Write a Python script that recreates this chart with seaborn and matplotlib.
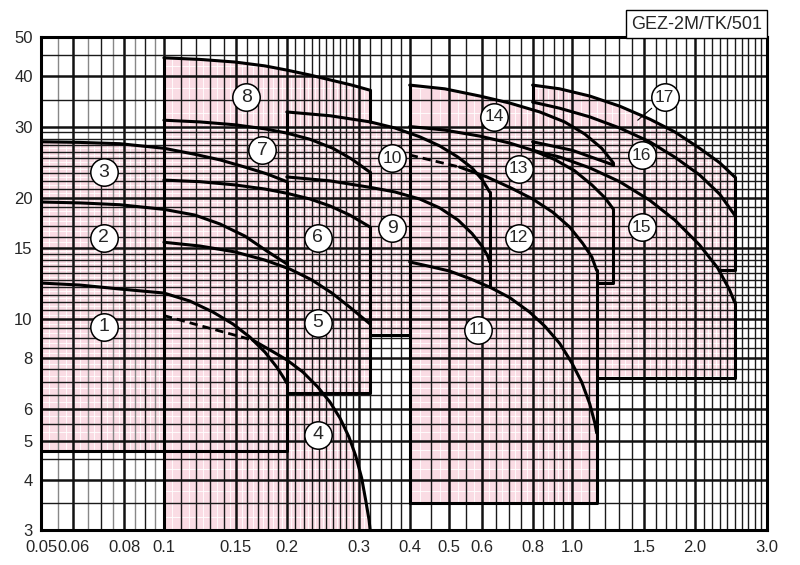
import numpy as np
import seaborn as sns
import matplotlib
matplotlib.use('Agg')
import matplotlib.pyplot as plt
from matplotlib.ticker import NullLocator

sns.set_style('white')
plt.rcParams['font.family'] = ['Liberation Sans', 'DejaVu Sans']

PINK = '#fadce4'

# ---- curves: flow q [m3/min], head h [m] ----
c1_q = [0.05, 0.0623, 0.078, 0.1, 0.1158, 0.1318, 0.1476, 0.1624, 0.1768, 0.189, 0.1967, 0.2]
c1_h = [12.28, 12.14, 11.87, 11.6, 11.08, 10.41, 9.72, 9.02, 8.28, 7.6, 7.14, 6.94]
c2_q = [0.05, 0.0623, 0.078, 0.1, 0.1191, 0.1372, 0.158, 0.1787, 0.2]
c2_h = [19.5, 19.4, 19.2, 18.7, 18.1, 17.2, 16.05, 14.74, 13.7]
c3_q = [0.05, 0.0623, 0.078, 0.1, 0.1191, 0.1372, 0.158, 0.1787, 0.2]
c3_h = [27.5, 27.4, 27.2, 26.5, 25.6, 24.8, 23.8, 22.9, 21.9]
c4d_q = [0.1, 0.126, 0.165]
c4d_h = [10.2, 9.56, 8.87]
c4_q = [0.165, 0.182, 0.2, 0.219, 0.238, 0.255, 0.27, 0.284, 0.295, 0.305, 0.312, 0.318, 0.32]
c4_h = [8.87, 8.38, 7.92, 7.39, 6.79, 6.23, 5.68, 5.10, 4.58, 4.04, 3.56, 3.18, 3.0]
c5_q = [0.1, 0.1225, 0.1492, 0.1768, 0.2035, 0.2303, 0.2579, 0.2853, 0.307, 0.32]
c5_h = [15.5, 15.17, 14.67, 14.0, 13.3, 12.5, 11.6, 10.7, 10.06, 9.72]
c6_q = [0.1, 0.1225, 0.1492, 0.1768, 0.2, 0.2278, 0.255, 0.2853, 0.32]
c6_h = [22.1, 21.9, 21.5, 21.0, 20.5, 19.84, 19.07, 18.1, 16.9]
c7_q = [0.1, 0.1225, 0.1492, 0.1768, 0.2, 0.2278, 0.2593, 0.2886, 0.32]
c7_h = [31.1, 30.8, 30.3, 29.6, 28.9, 27.9, 26.5, 24.9, 23.1]
c8_q = [0.1, 0.1225, 0.1492, 0.1768, 0.2, 0.2278, 0.2593, 0.2886, 0.32]
c8_h = [44.4, 44.0, 43.35, 42.4, 41.4, 40.25, 39.0, 38.0, 36.9]
c9_q = [0.2, 0.2555, 0.32, 0.368, 0.423, 0.474, 0.525, 0.568, 0.601, 0.621, 0.628]
c9_h = [22.5, 22.0, 21.2, 20.65, 19.84, 18.85, 17.6, 16.3, 15.17, 14.33, 13.85]
c10_q = [0.2, 0.2555, 0.32, 0.368, 0.423, 0.474, 0.525, 0.568, 0.601, 0.628]
c10_h = [32.6, 31.9, 30.8, 29.75, 28.3, 26.85, 25.2, 23.7, 22.2, 20.65]
c11_q = [0.4, 0.448, 0.501, 0.561, 0.628, 0.703, 0.787, 0.857, 0.932, 0.997, 1.055, 1.104, 1.135, 1.148]
c11_h = [13.85, 13.5, 13.15, 12.6, 12.0, 11.3, 10.4, 9.6, 8.7, 7.8, 6.98, 6.16, 5.55, 5.22]
c12d_q = [0.4, 0.53]
c12d_h = [25.5, 23.8]
c12_q = [0.53, 0.618, 0.703, 0.8, 0.896, 0.986, 1.061, 1.117, 1.148]
c12_h = [23.8, 22.5, 21.2, 19.84, 18.4, 16.9, 15.4, 14.25, 13.2]
c13_q = [0.4, 0.4875, 0.594, 0.703, 0.8, 0.906, 1.014, 1.117, 1.2015, 1.26]
c13_h = [30.0, 29.4, 28.4, 27.3, 26.2, 24.85, 23.3, 21.5, 20.0, 18.75]
c14_q = [0.4, 0.4875, 0.594, 0.703, 0.833, 0.958, 1.073, 1.181, 1.26]
c14_h = [38.0, 37.2, 35.7, 34.3, 32.6, 30.8, 28.75, 26.5, 24.4]
c14b_q = [0.8, 1.0, 1.26]
c14b_h = [27.5, 26.2, 24.1]
c15_q = [0.8, 0.932, 1.104, 1.307, 1.548, 1.783, 2.052, 2.27, 2.43, 2.5]
c15_h = [26.2, 25.2, 23.7, 21.9, 19.7, 17.6, 15.25, 13.4, 11.8, 11.0]
c16_q = [0.8, 0.932, 1.104, 1.307, 1.548, 1.783, 2.052, 2.297, 2.5]
c16_h = [34.5, 33.3, 31.7, 29.75, 27.5, 25.2, 22.75, 20.4, 18.1]
c17_q = [0.8, 0.932, 1.104, 1.307, 1.548, 1.783, 2.052, 2.297, 2.5]
c17_h = [38.0, 37.2, 35.7, 33.7, 31.3, 29.1, 26.5, 24.4, 22.5]

# straight edges of the regions
edges = [
    ([0.05, 0.2, 0.2], [4.7, 4.7, 21.9]),
    ([0.1, 0.1], [3.0, 44.4]),
    ([0.32, 0.32], [36.9, 30.8]),
    ([0.32, 0.32], [23.1, 21.2]),
    ([0.32, 0.32, 0.2], [16.9, 6.56, 6.56]),
    ([0.2, 0.2], [32.6, 28.9]),
    ([0.628, 0.628], [20.65, 12.0]),
    ([0.32, 0.4], [9.13, 9.13]),
    ([0.4, 0.4], [3.5, 38.0]),
    ([1.26, 1.26], [24.4, 24.1]),
    ([0.8, 0.8], [27.5, 26.2]),
    ([1.26, 1.26, 1.148], [18.75, 12.3, 12.3]),
    ([1.148, 1.148, 0.4], [13.2, 3.5, 3.5]),
    ([0.8, 0.8], [38.0, 34.5]),
    ([2.5, 2.5, 2.29], [22.5, 13.2, 13.2]),
    ([2.5, 2.5, 1.148], [11.0, 7.14, 7.14]),
]

labels = ['1', '2', '3', '4', '5', '6', '7', '8', '9', '10', '11', '12', '13', '14', '15', '16', '17']
label_q = [0.0713, 0.0713, 0.0713, 0.238, 0.238, 0.238, 0.174, 0.159, 0.362, 0.362,
           0.587, 0.74, 0.74, 0.643, 1.48, 1.48, 1.685]
label_h = [9.56, 15.9, 23.1, 5.16, 9.78, 15.9, 26.2, 35.5, 16.8, 25.0,
           9.4, 15.9, 23.6, 31.7, 16.9, 25.5, 35.5]

x_ticks = [0.05, 0.06, 0.08, 0.1, 0.15, 0.2, 0.3, 0.4, 0.5, 0.6, 0.8, 1.0, 1.5, 2.0, 3.0]
x_ticklabels = ['0.05', '0.06', '0.08', '0.1', '0.15', '0.2', '0.3', '0.4', '0.5', '0.6',
                '0.8', '1.0', '1.5', '2.0', '3.0']
y_ticks = [3, 4, 5, 6, 8, 10, 15, 20, 30, 40, 50]

fig = plt.figure(figsize=(8, 5.65), dpi=100)
ax = fig.add_axes([0.05125, 0.0619, 0.9075, 0.8726])
ax.set_xscale('log')
ax.set_yscale('log')
ax.set_xlim(0.05, 3.0)
ax.set_ylim(3, 50)

# pink areas
ax.fill([0.05] + c3_q + [0.2], [4.7] + c3_h + [4.7], color=PINK, lw=0, zorder=1)
ax.fill([0.1] + c8_q + [0.32, 0.245] + c4_q[5:],
        [3.0] + c8_h + [6.56, 6.56] + c4_h[5:], color=PINK, lw=0, zorder=1)
ax.fill([0.2] + c10_q + [0.628], [9.13] + c10_h + [9.13], color=PINK, lw=0, zorder=1)
ax.fill([0.4] + c14_q + [1.26, 1.148, 1.148], [3.5] + c14_h + [12.3, 12.3, 3.5],
        color=PINK, lw=0, zorder=1)
ax.fill(c17_q + [2.5, 1.148, 1.148, 0.8], c17_h + [7.14, 7.14, 22.5, 26.2],
        color=PINK, lw=0, zorder=1)

# chart paper grid
xg_major = [0.06, 0.08, 0.1, 0.15, 0.2, 0.3, 0.4, 0.5, 0.6, 0.8, 1.0, 1.5, 2.0]
xg_minor = ([0.07, 0.09] + list(np.round(np.arange(0.11, 0.145, 0.01), 3))
            + list(np.round(np.arange(0.16, 0.195, 0.01), 3))
            + list(np.round(np.arange(0.21, 0.295, 0.01), 3))
            + [0.32, 0.34, 0.36, 0.38, 0.45, 0.55, 0.65, 0.7, 0.75, 0.85, 0.9, 0.95]
            + list(np.round(np.arange(1.1, 1.45, 0.1), 2))
            + list(np.round(np.arange(1.6, 1.95, 0.1), 2))
            + list(np.round(np.arange(2.1, 2.95, 0.1), 2)))
xg_grey = [0.055, 0.065, 0.075, 0.085, 0.095]
yg_major = [4, 5, 6, 8, 10, 15, 20, 30, 40]
yg_minor = ([3.5, 4.5, 5.5, 6.5, 7, 7.5, 8.5, 9, 9.5]
            + list(np.arange(10.5, 14.6, 0.5)) + [16, 17, 18, 19]
            + list(range(21, 30)) + [35, 45])

xs = sorted([0.05, 3.0] + xg_major + xg_minor + xg_grey)
ys = sorted([3, 50] + yg_major + yg_minor)
for a, b in zip(xs[:-1], xs[1:]):
    ax.axvline(np.sqrt(a * b), color='white', lw=0.6, zorder=1.5)
for a, b in zip(ys[:-1], ys[1:]):
    ax.axhline(np.sqrt(a * b), color='white', lw=0.6, zorder=1.5)

for v in xg_major:
    ax.axvline(v, color='#111111', lw=1.8, zorder=2)
for v in xg_minor:
    ax.axvline(v, color='#1a1a1a', lw=1.0, zorder=2)
for v in xg_grey:
    ax.axvline(v, color='#888888', lw=1.0, zorder=2)
for v in yg_major:
    ax.axhline(v, color='#111111', lw=1.8, zorder=2)
for v in yg_minor:
    ax.axhline(v, color='#1a1a1a', lw=1.0, zorder=2)

# region outlines
curves = [(c1_q, c1_h), (c2_q, c2_h), (c3_q, c3_h), (c4_q, c4_h), (c5_q, c5_h),
          (c6_q, c6_h), (c7_q, c7_h), (c8_q, c8_h), (c9_q, c9_h), (c10_q, c10_h),
          (c11_q, c11_h), (c12_q, c12_h), (c13_q, c13_h), (c14_q, c14_h),
          (c14b_q, c14b_h), (c15_q, c15_h), (c16_q, c16_h), (c17_q, c17_h)] + edges
for q, h in curves:
    sns.lineplot(x=q, y=h, sort=False, estimator=None, color='black', lw=2.2,
                 ax=ax, zorder=3)
for q, h in [(c4d_q, c4d_h), (c12d_q, c12d_h)]:
    sns.lineplot(x=q, y=h, sort=False, estimator=None, color='black', lw=2.0,
                 linestyle=(0, (3, 1.8)), ax=ax, zorder=3)

# leader for 17
ax.plot([1.566, 1.447], [33.3, 31.1], color='black', lw=0.8, zorder=3)

ax.scatter(label_q, label_h, s=390, facecolor='white', edgecolor='black',
           linewidth=1.1, zorder=4)
for t, q, h in zip(labels, label_q, label_h):
    ax.text(q, h, t, ha='center', va='center', zorder=5,
            fontsize=14 if len(t) == 1 else 12.5)

ax.set_xticks(x_ticks)
ax.set_xticklabels(x_ticklabels)
ax.set_yticks(y_ticks)
ax.set_yticklabels([str(v) for v in y_ticks])
ax.xaxis.set_minor_locator(NullLocator())
ax.yaxis.set_minor_locator(NullLocator())
ax.tick_params(axis='x', length=0, labelsize=12, pad=7)
ax.tick_params(axis='y', length=0, labelsize=12, pad=6)
for s in ax.spines.values():
    s.set_linewidth(2.2)
    s.set_color('black')
    s.set_zorder(6)

fig.text(0.9525, 0.9575, 'GEZ-2M/TK/501', ha='right', va='center', fontsize=13,
         bbox=dict(boxstyle='square,pad=0.3', fc='white', ec='black', lw=1.0))

fig.savefig('out.png', dpi=100)
